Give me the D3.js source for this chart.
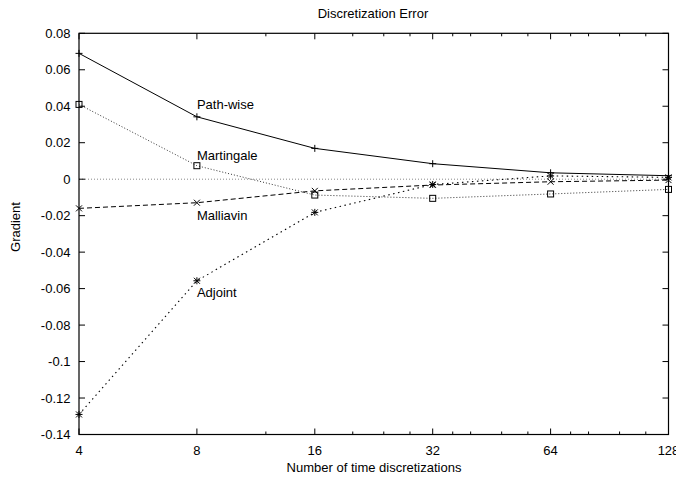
<!DOCTYPE html>
<html><head><meta charset="utf-8">
<script src="https://cdn.jsdelivr.net/npm/d3@7"></script>
<style>body{margin:0;background:#fff}svg{display:block}text{font-family:"Liberation Sans",Arial,sans-serif;font-size:13px;fill:#000}</style>
</head><body><svg id="c" width="676" height="479"></svg>
<script>
const xValues = [4, 8, 16, 32, 64, 128];
const xMajorTicks = [4, 8, 16, 32, 64, 128];
const xMinorTicks = [12, 20, 24, 28, 36, 40, 48, 56, 72, 80, 96, 112];
const yTicks = [0.08, 0.06, 0.04, 0.02, 0, -0.02, -0.04, -0.06, -0.08, -0.1, -0.12, -0.14];
const pathwise = [0.069, 0.0342, 0.0169, 0.0085, 0.0035, 0.0019];
const martingale = [0.041, 0.0074, -0.0087, -0.0105, -0.0081, -0.0056];
const malliavin = [-0.016, -0.0129, -0.0064, -0.0032, -0.0014, -0.0005];
const adjoint = [-0.129, -0.0557, -0.0182, -0.0029, 0.0018, 0.001];
const seriesNames = ["Path-wise", "Martingale", "Malliavin", "Adjoint"];

const svg = d3.select("#c");
const L = 79, R = 668.5, T = 33.3, B = 434.5;
const x = d3.scaleLog().base(2).domain([4, 128]).range([L, R]);
const y = d3.scaleLinear().domain([-0.14, 0.08]).range([B, T]);

// zero line
svg.append("line").attr("x1", L).attr("x2", R).attr("y1", y(0)).attr("y2", y(0))
  .attr("stroke", "#888").attr("stroke-width", 1).attr("stroke-dasharray", "1,2");

const g = svg.append("g");
yTicks.forEach(v => {
  g.append("line").attr("x1", L).attr("x2", L + 6).attr("y1", y(v)).attr("y2", y(v)).attr("stroke", "#000");
  g.append("line").attr("x1", R).attr("x2", R - 6).attr("y1", y(v)).attr("y2", y(v)).attr("stroke", "#000");
  g.append("text").attr("x", 70.5).attr("y", y(v) + 4.6).attr("text-anchor", "end").text(+v.toFixed(2));
});
xMajorTicks.forEach(v => {
  g.append("line").attr("x1", x(v)).attr("x2", x(v)).attr("y1", B).attr("y2", B - 6).attr("stroke", "#000");
  g.append("line").attr("x1", x(v)).attr("x2", x(v)).attr("y1", T).attr("y2", T + 6).attr("stroke", "#000");
  g.append("text").attr("x", x(v)).attr("y", 455).attr("text-anchor", "middle").text(v);
});
xMinorTicks.forEach(v => {
  g.append("line").attr("x1", x(v)).attr("x2", x(v)).attr("y1", B).attr("y2", B - 3).attr("stroke", "#000");
  g.append("line").attr("x1", x(v)).attr("x2", x(v)).attr("y1", T).attr("y2", T + 3).attr("stroke", "#000");
});
svg.append("rect").attr("x", L).attr("y", T).attr("width", R - L).attr("height", B - T)
  .attr("fill", "none").attr("stroke", "#000").attr("stroke-width", 1.2);

const line = d3.line().x((d, i) => x(xValues[i])).y(d => y(d));
const styles = [
  {data: pathwise, dash: null, color: "#000", w: 1},
  {data: martingale, dash: "1,2", color: "#333", w: 1},
  {data: malliavin, dash: "5,3", color: "#000", w: 1},
  {data: adjoint, dash: "1.5,3.5", color: "#000", w: 1.1}
];
styles.forEach(s => {
  svg.append("path").attr("d", line(s.data)).attr("fill", "none").attr("stroke", s.color)
    .attr("stroke-width", s.w).attr("stroke-dasharray", s.dash);
});

function marker(type, cx, cy) {
  const m = svg.append("g").attr("transform", `translate(${cx},${cy})`).attr("stroke", "#000").attr("fill", "none").attr("stroke-width", 1);
  const r = 3.5;
  if (type === 0 || type === 3) {
    m.append("line").attr("x1", -r).attr("x2", r).attr("y1", 0).attr("y2", 0);
    m.append("line").attr("x1", 0).attr("x2", 0).attr("y1", -r).attr("y2", r);
  }
  if (type === 2 || type === 3) {
    const q = 3;
    m.append("line").attr("x1", -q).attr("x2", q).attr("y1", -q).attr("y2", q);
    m.append("line").attr("x1", -q).attr("x2", q).attr("y1", q).attr("y2", -q);
  }
  if (type === 1) {
    m.append("rect").attr("x", -3).attr("y", -3).attr("width", 6).attr("height", 6);
  }
}
styles.forEach((s, k) => s.data.forEach((d, i) => marker(k, x(xValues[i]), y(d))));

const lbl = [
  {name: seriesNames[0], v: pathwise[1], dy: -8},
  {name: seriesNames[1], v: martingale[1], dy: -6},
  {name: seriesNames[2], v: malliavin[1], dy: 17},
  {name: seriesNames[3], v: adjoint[1], dy: 16}
];
lbl.forEach(l => svg.append("text").attr("x", x(8)).attr("y", y(l.v) + l.dy).text(l.name));

svg.append("text").attr("x", 373).attr("y", 17.5).attr("text-anchor", "middle").text("Discretization Error");
svg.append("text").attr("x", 374).attr("y", 472).attr("text-anchor", "middle").text("Number of time discretizations");
svg.append("text").attr("transform", "translate(20,227) rotate(-90)").attr("text-anchor", "middle").text("Gradient");
</script></body></html>
